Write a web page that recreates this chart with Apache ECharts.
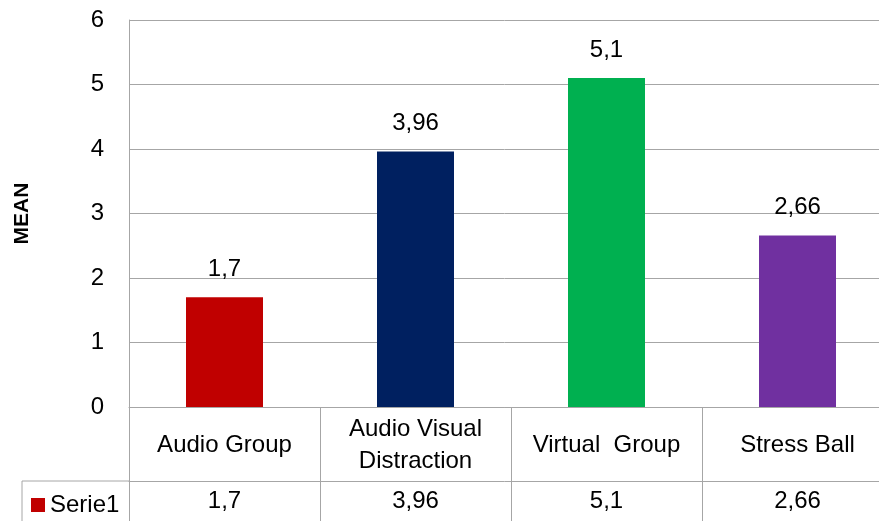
<!DOCTYPE html>
<html>
<head>
<meta charset="utf-8">
<script src="https://cdn.jsdelivr.net/npm/echarts@6/dist/echarts.min.js"></script>
<style>
  html, body { margin: 0; padding: 0; background: #fff; }
  #chart { width: 879px; height: 521px; }
</style>
</head>
<body>
<div id="chart"></div>
<script>
// data
var categories = ['Audio Group', 'Audio Visual\nDistraction', 'Virtual  Group', 'Stress Ball'];
var means = [1.7, 3.96, 5.1, 2.66];
var barColors = ['#C00000', '#002060', '#00B050', '#7030A0'];
var seriesName = 'Serie1';

function comma(v) {
    return String(v).replace('.', ',');
}

var chart = echarts.init(document.getElementById('chart'));
var font = 'Liberation Sans, Arial, sans-serif';
var lineColor = '#a6a6a6';

var option = {
    animation: false,
    textStyle: { fontFamily: font },
    grid: { left: 129, top: 20, bottom: 114, right: -14, outerBoundsMode: 'none' },
    legend: {
        data: [seriesName],
        left: 26,
        top: 488,
        icon: 'rect',
        itemWidth: 14,
        itemHeight: 14,
        itemGap: 6,
        textStyle: { fontSize: 24, color: '#000', fontFamily: font }
    },
    xAxis: [{
        type: 'category',
        data: categories,
        axisLine: { show: true, lineStyle: { color: lineColor } },
        axisTick: { show: true, length: 114, interval: 0, lineStyle: { color: lineColor } },
        axisLabel: { interval: 0, margin: 38, verticalAlign: 'middle', fontSize: 24, color: '#000', lineHeight: 32 }
    }, {
        type: 'category',
        position: 'bottom',
        offset: 74,
        data: means.map(comma),
        axisLine: { show: true, lineStyle: { color: lineColor } },
        axisTick: { show: false },
        axisLabel: { interval: 0, margin: 20, verticalAlign: 'middle', fontSize: 24, color: '#000' }
    }],
    yAxis: {
        type: 'value',
        min: 0,
        max: 6,
        interval: 1,
        name: 'MEAN',
        nameLocation: 'middle',
        nameGap: 96,
        nameTextStyle: { fontSize: 21, fontWeight: 'bold', color: '#000' },
        axisLine: { show: true, lineStyle: { color: lineColor } },
        axisTick: { show: false },
        axisLabel: { margin: 25, fontSize: 24, color: '#000' },
        splitLine: { lineStyle: { color: lineColor } }
    },
    series: [{
        name: seriesName,
        type: 'bar',
        xAxisIndex: 0,
        barWidth: 77,
        itemStyle: { color: barColors[0] },
        data: means.map(function (v, i) {
            return { value: v, itemStyle: { color: barColors[i] } };
        }),
        label: {
            show: true,
            position: 'top',
            distance: 16,
            fontSize: 24,
            color: '#000',
            formatter: function (p) { return comma(p.value); }
        }
    }],
    graphic: [
        { type: 'line', shape: { x1: 22, y1: 481, x2: 129, y2: 481 }, style: { stroke: lineColor, lineWidth: 1 } },
        { type: 'line', shape: { x1: 22, y1: 481, x2: 22, y2: 521 }, style: { stroke: lineColor, lineWidth: 1 } }
    ]
};

chart.setOption(option);
</script>
</body>
</html>
